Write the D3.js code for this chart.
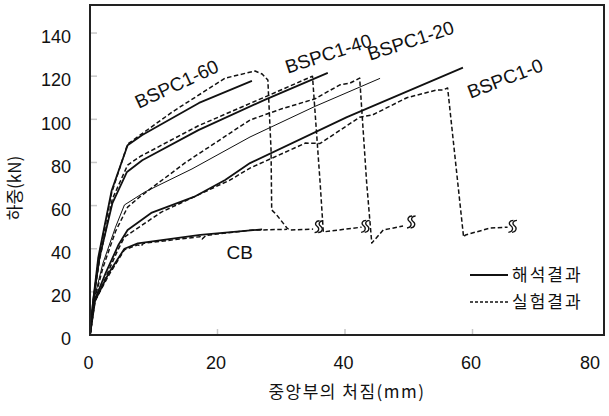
<!DOCTYPE html>
<html><head><meta charset="utf-8">
<script src="https://cdn.jsdelivr.net/npm/d3@7"></script>
<style>
html,body{margin:0;padding:0;background:#fff;}
svg{display:block;}
</style></head>
<body>
<svg id="c" width="609" height="416"></svg>
<script>
// ---- data (deflection mm, load kN) ----
const xTicks = [0, 20, 40, 60, 80];
const yTicks = [0, 20, 40, 60, 80, 100, 120, 140];
const legendLabels = ["해석결과", "실험결과"];

const cbAnalysis = [[0,0],[0.8,16],[3,29],[5.4,40],[7.5,42.5],[17.3,46.4],[27,49]];
const cbTest = [[0,0],[0.8,16],[3,28],[5.4,39.5],[7.5,41.8],[8,41.2],[8.4,42.5],[17.3,45.6],[17.6,44.5],[18.2,46.2],[25.2,48.6],[30.9,49]];

const s0Analysis = [[0,0],[0.7,16],[2.5,29],[4.5,42],[5.9,48.7],[9.6,56.6],[16.3,64],[21.2,71.9],[25.1,79.7],[40.3,101],[58.5,124]];
const s0Test = [[0,0],[0.7,15],[2.5,27],[4.3,39],[5.4,45.4],[11.2,57],[22,71.9],[25.1,77.4],[33.8,89],[36.1,88.8],[42.3,101],[44.3,102],[49.7,110],[54.4,113.6],[55.3,113.6],[56.1,114.5],[58.6,45.4],[58.9,46.4],[62.8,49.6],[65.5,50]];

const s20Analysis = [[0,0],[0.6,16],[2,33],[4,50],[5.4,60.3],[8.6,66.3],[16,77],[25.1,91.8],[35.3,106],[45.5,119]];
const s20Test = [[0,0],[0.6,15],[2,31],[4,48],[5.9,59.3],[7.8,64],[15,80],[25.1,99.7],[30.2,105],[35.3,109.5],[39.2,116],[40.8,116.8],[42.3,119.1],[43.4,70.5],[44.2,42.6],[46,48.7],[49.1,50.5]];

const s40Analysis = [[0,0],[0.5,16],[1.5,36],[3.5,61],[5.8,75.6],[8.2,81],[17,95],[27.4,109],[37.3,121.5]];
const s40Test = [[0,0],[0.5,15],[1.5,35],[3.5,63],[5.9,78.8],[8,83],[17,97],[27.4,110.3],[34.9,120],[36.1,70.5],[36.6,47.8],[42.6,50]];

const s60Analysis = [[0,0],[0.5,16],[1.3,36],[3.4,67],[5.9,88],[8.2,92.7],[17.1,107.6],[25.4,117.8]];
const s60Test = [[0,0],[0.5,15],[1.3,35],[3.4,66],[5.9,88.5],[12.9,103.4],[21.2,119.1],[25.9,122.4],[27,121],[27.9,118.2],[28.4,85.8],[28.5,58],[29.3,55.6],[30.9,49.6],[31.3,48.7],[35,49.1]];

const breakMarks = [[35.9,50.2],[43.2,50.4],[50.4,52.4],[66.3,50.4]];

const seriesLabels = ["BSPC1-60","BSPC1-40","BSPC1-20","BSPC1-0","CB"];
const labelAnchors = [[13.6,116.4],[37.4,130.5],[50.3,136.5],[65.1,119],[23.5,38.5]];
const labelAngles = [-25,-18,-18,-21,0];

// ---- layout ----
const svg = d3.select("#c");
const L = 90, R = 604, T = 5, B = 335;
const x = d3.scaleLinear().domain([0, 80]).range([90, 600]);
const y = d3.scaleLinear().domain([0, 153]).range([B, T]);
const numFont = "'Liberation Sans', Arial, sans-serif";
const krFont = "'Noto Sans CJK KR', 'Noto Sans', sans-serif";

// inner ticks
svg.append("g").selectAll("line").data(yTicks.slice(1)).join("line")
  .attr("x1", L).attr("x2", L + 7).attr("y1", d => y(d)).attr("y2", d => y(d))
  .attr("stroke", "#c8c8c8").attr("stroke-width", 1.5);
svg.append("g").selectAll("line").data(xTicks.slice(1, -1)).join("line")
  .attr("x1", d => x(d)).attr("x2", d => x(d)).attr("y1", B).attr("y2", B - 6)
  .attr("stroke", "#c8c8c8").attr("stroke-width", 1.5);

// tick labels
svg.append("g").selectAll("text").data(yTicks).join("text")
  .attr("x", 71).attr("y", d => y(d) + 4).attr("dy", "0.35em")
  .attr("text-anchor", "end").attr("font-family", numFont).attr("font-size", 18)
  .attr("fill", "#111").text(d => d);
svg.append("g").selectAll("text").data(xTicks).join("text")
  .attr("x", d => Math.min(x(d) - 1.5, 590)).attr("y", 363).attr("dy", "0.35em")
  .attr("text-anchor", "middle").attr("font-family", numFont).attr("font-size", 18)
  .attr("fill", "#111").text(d => d);

// axis titles
svg.append("text").attr("x", 347).attr("y", 392).attr("dy", "0.35em")
  .attr("text-anchor", "middle").attr("font-family", krFont).attr("font-size", 17)
  .attr("letter-spacing", 1.5).attr("fill", "#111").text("중앙부의 처짐(mm)");
svg.append("text").attr("transform", "translate(15,188) rotate(-90)").attr("dy", "0.35em")
  .attr("text-anchor", "middle").attr("font-family", krFont).attr("font-size", 17)
  .attr("fill", "#111").text("하중(kN)");

// curves
const line = d3.line().x(d => x(d[0])).y(d => y(d[1]));
const solids = [cbAnalysis, s0Analysis, s40Analysis, s60Analysis];
const dashed = [cbTest, s0Test, s20Test, s40Test, s60Test];
const g = svg.append("g").attr("fill", "none").attr("stroke-linejoin", "round");
g.selectAll("path.s").data(solids).join("path").attr("class", "s")
  .attr("d", line).attr("stroke", "#111").attr("stroke-width", 1.8);
g.append("path").datum(s20Analysis).attr("d", line).attr("stroke", "#111").attr("stroke-width", 1);
g.selectAll("path.d").data(dashed).join("path").attr("class", "d")
  .attr("d", line).attr("stroke", "#111").attr("stroke-width", 1.5).attr("stroke-dasharray", "4.5,2.5");

// break marks (double S)
const sPath = "M2.5,-6 C-1.5,-6 -2.8,-2.5 0,-0.5 C2.8,1.5 2,5.5 -2.5,6";
const bm = svg.append("g").selectAll("g").data(breakMarks).join("g")
  .attr("transform", d => `translate(${x(d[0])},${y(d[1])})`);
bm.append("path").attr("d", sPath).attr("transform", "translate(-1.8,0)")
  .attr("fill", "none").attr("stroke", "#111").attr("stroke-width", 1.3);
bm.append("path").attr("d", sPath).attr("transform", "translate(1.8,0)")
  .attr("fill", "none").attr("stroke", "#111").attr("stroke-width", 1.3);

// series labels
svg.append("g").selectAll("text").data(seriesLabels).join("text")
  .attr("transform", (d, i) => `translate(${x(labelAnchors[i][0])},${y(labelAnchors[i][1])}) rotate(${labelAngles[i]})`)
  .attr("dy", "0.35em").attr("text-anchor", "middle")
  .attr("font-family", numFont).attr("font-size", 19).attr("fill", "#111").text(d => d);

// legend
const leg = svg.append("g");
leg.append("line").attr("x1", 470).attr("x2", 508).attr("y1", 275).attr("y2", 275)
  .attr("stroke", "#111").attr("stroke-width", 2);
leg.append("line").attr("x1", 470).attr("x2", 508).attr("y1", 302).attr("y2", 302)
  .attr("stroke", "#111").attr("stroke-width", 1.5).attr("stroke-dasharray", "3,2");
leg.selectAll("text").data(legendLabels).join("text")
  .attr("x", 512).attr("y", (d, i) => 275 + i * 27).attr("dy", "0.35em")
  .attr("font-family", krFont).attr("font-size", 17).attr("letter-spacing", 2)
  .attr("fill", "#111").text(d => d);

// frame
svg.append("rect").attr("x", L).attr("y", T).attr("width", R - L).attr("height", B - T)
  .attr("fill", "none").attr("stroke", "#222").attr("stroke-width", 2);
</script>
</body></html>
